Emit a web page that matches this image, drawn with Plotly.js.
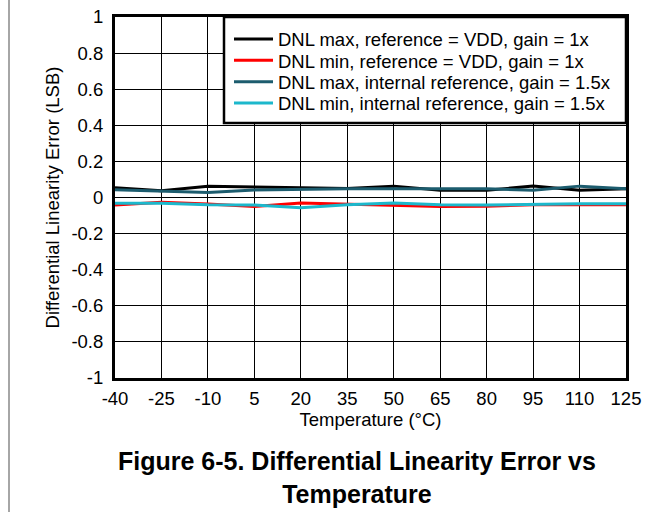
<!DOCTYPE html>
<html>
<head>
<meta charset="utf-8">
<script src="https://cdn.plot.ly/plotly-3.0.1.min.js"></script>
<style>
html,body{margin:0;padding:0;background:#fff;}
#chart{width:667px;height:512px;}
</style>
</head>
<body>
<div id="chart"></div>
<script>
const temperature = [-40, -25, -10, 5, 20, 35, 50, 65, 80, 95, 110, 125];
const dnlMaxVdd   = [0.054, 0.038, 0.062, 0.056, 0.054, 0.050, 0.063, 0.040, 0.040, 0.063, 0.040, 0.048];
const dnlMinVdd   = [-0.042, -0.026, -0.036, -0.050, -0.030, -0.036, -0.042, -0.050, -0.048, -0.040, -0.040, -0.040];
const dnlMaxInt   = [0.043, 0.034, 0.028, 0.042, 0.047, 0.048, 0.048, 0.048, 0.048, 0.040, 0.063, 0.048];
const dnlMinInt   = [-0.032, -0.032, -0.040, -0.041, -0.057, -0.040, -0.031, -0.040, -0.042, -0.038, -0.035, -0.035];

const seriesNames = [
  "DNL max, reference = VDD, gain = 1x",
  "DNL min, reference = VDD, gain = 1x",
  "DNL max, internal reference, gain = 1.5x",
  "DNL min, internal reference, gain = 1.5x"
];
const xTickVals = [-40, -25, -10, 5, 20, 35, 50, 65, 80, 95, 110, 125];
const xTickText = ["-40", "-25", "-10", "5", "20", "35", "50", "65", "80", "95", "110", "125"];
const yTickVals = [1, 0.8, 0.6, 0.4, 0.2, 0, -0.2, -0.4, -0.6, -0.8, -1];
const yTickText = ["1", "0.8", "0.6", "0.4", "0.2", "0", "-0.2", "-0.4", "-0.6", "-0.8", "-1"];
const captionText = "Figure 6-5. Differential Linearity Error vs<br>Temperature";

const colors = ["#000000", "#ff0000", "#1c5c6e", "#1cb8cc"];
const ys = [dnlMaxVdd, dnlMinVdd, dnlMaxInt, dnlMinInt];
const legendIds = ["legend", "legend2", "legend3", "legend4"];
const fs = 18.5;

const traces = ys.map((y, i) => ({
  x: temperature, y: y, type: "scatter", mode: "lines",
  name: seriesNames[i], legend: legendIds[i],
  line: {color: colors[i], width: 3}
}));

const W = 667, H = 512, L = 115, R = 41, T = 17, B = 134;
const pw = W - L - R, ph = H - T - B;
const font = {family: "Liberation Sans, Arial, sans-serif", color: "#000"};
const px2x = p => (p - L) / pw;
const py2y = p => (H - B - p) / ph;
const legendRowsPx = [39.5, 60.8, 82.1, 103.4];

const layout = {
  width: W, height: H,
  margin: {l: L, r: R, t: T, b: B, pad: 0},
  paper_bgcolor: "#fff", plot_bgcolor: "#fff",
  font: Object.assign({size: fs}, font),
  showlegend: true,
  xaxis: {
    range: [-40, 125], tickmode: "array", tickvals: xTickVals, ticktext: xTickText,
    showgrid: true, gridcolor: "#000", gridwidth: 1,
    showline: true, linecolor: "#000", linewidth: 3, mirror: true,
    ticks: "", zeroline: false, ticklabelstandoff: 2,
    tickfont: Object.assign({size: fs}, font),
    title: {text: "Temperature (°C)", font: Object.assign({size: fs}, font), standoff: 3}
  },
  yaxis: {
    range: [-1, 1], tickmode: "array", tickvals: yTickVals, ticktext: yTickText,
    showgrid: true, gridcolor: "#000", gridwidth: 1,
    showline: true, linecolor: "#000", linewidth: 3, mirror: true,
    ticks: "", zeroline: false, ticklabelstandoff: 5,
    tickfont: Object.assign({size: fs}, font),
    title: {text: "Differential Linearity Error (LSB)", font: Object.assign({size: fs}, font), standoff: 7}
  },
  shapes: [
    {
      type: "line", xref: "paper", yref: "paper",
      x0: px2x(9), x1: px2x(9), y0: py2y(H), y1: py2y(0),
      line: {color: "#888", width: 1.5}
    },
    {
      type: "rect", xref: "paper", yref: "paper", layer: "above",
      x0: px2x(224), x1: 1, y0: py2y(123), y1: 1,
      fillcolor: "#fff", line: {color: "#000", width: 2.5}
    }
  ],
  annotations: [{
    xref: "paper", yref: "paper",
    x: px2x(357), y: py2y(477.5), xanchor: "center", yanchor: "middle",
    text: "<b>" + captionText + "</b>", showarrow: false, align: "center",
    font: Object.assign({size: 25}, font)
  }]
};

legendIds.forEach((id, i) => {
  layout[id] = {
    x: px2x(229), y: py2y(legendRowsPx[i]), xanchor: "left", yanchor: "middle",
    bgcolor: "rgba(0,0,0,0)", borderwidth: 0, itemwidth: 39,
    font: Object.assign({size: fs}, font)
  };
});

Plotly.newPlot("chart", traces, layout, {displayModeBar: false, staticPlot: true});
</script>
</body>
</html>
